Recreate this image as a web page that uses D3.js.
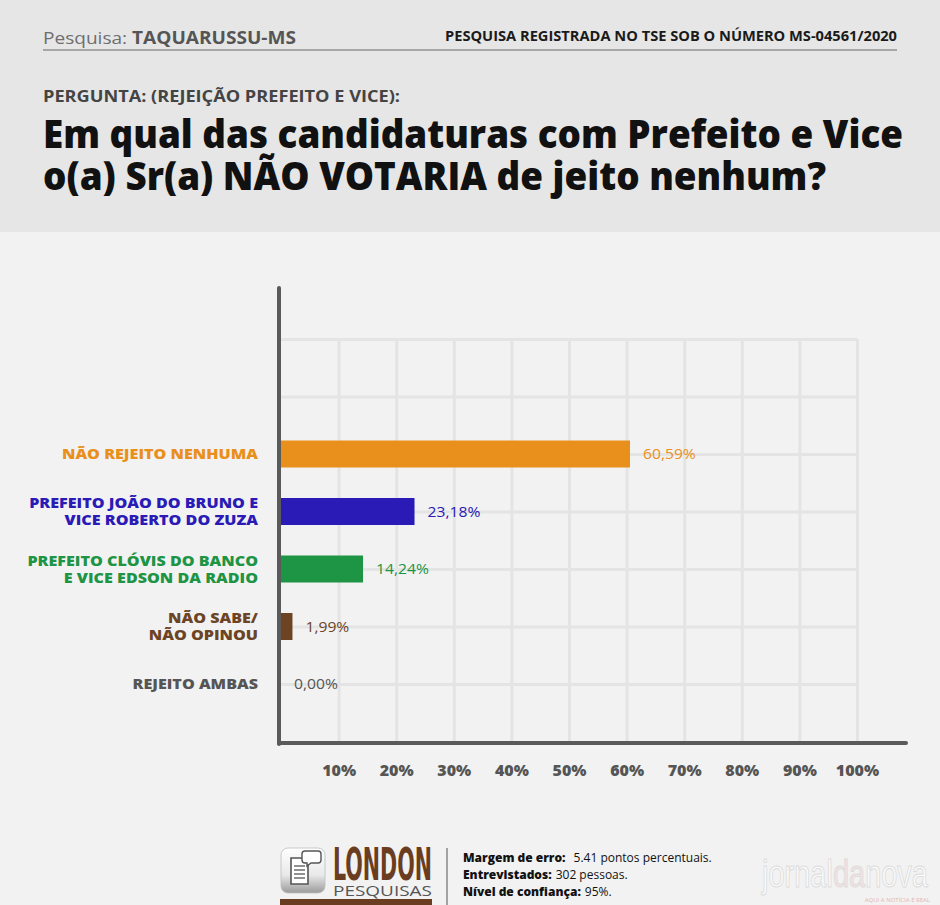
<!DOCTYPE html>
<html>
<head>
<meta charset="utf-8">
<script src="https://cdn.jsdelivr.net/npm/d3@7"></script>
<style>
  body { margin: 0; background: #f2f2f2; }
  svg { display: block; font-family: "Open Sans", sans-serif; }
</style>
</head>
<body>
<svg id="chart" width="940" height="905"></svg>
<script>
// data
const categories = ['nenhuma', 'joao', 'clovis', 'naosabe', 'ambas']
const labelLines = [
    ['NÃO REJEITO NENHUMA'],
    ['PREFEITO JOÃO DO BRUNO E', 'VICE ROBERTO DO ZUZA'],
    ['PREFEITO CLÓVIS DO BANCO', 'E VICE EDSON DA RADIO'],
    ['NÃO SABE/', 'NÃO OPINOU'],
    ['REJEITO AMBAS']
]
const values = [60.59, 23.18, 14.24, 1.99, 0.00]
const colors = ['#e98f1b', '#2a1ab6', '#1e9445', '#6c4424', '#555555']
const emptyRows = ['vazio1', 'vazio2']
const ticks = [10, 20, 30, 40, 50, 60, 70, 80, 90, 100]
const tickLabel = d => d + '%'
const footerLines = [
    ['Margem de erro:', '5.41 pontos percentuais.'],
    ['Entrevistados:', '302 pessoas.'],
    ['Nível de confiança:', '95%.']
]

const rows = categories.map((c, i) => ({ id: c, lines: labelLines[i], value: values[i], color: colors[i] }))

const svg = d3.select('#chart')

// squeeze / stretch a text to a width
const fit = (sel, w) => sel.attr('textLength', w).attr('lengthAdjust', 'spacingAndGlyphs')
const stretch = (sel, k) => sel.each(function () {
    const w = this.getComputedTextLength()
    d3.select(this).attr('textLength', w * k).attr('lengthAdjust', 'spacingAndGlyphs')
})

// header
svg.append('rect').attr('width', 940).attr('height', 232).attr('fill', '#e6e6e6')
svg.append('rect').attr('y', 232).attr('width', 940).attr('height', 673).attr('fill', '#f2f2f2')

const pesq = svg.append('text').attr('x', 43).attr('y', 44).attr('font-size', 17)
pesq.append('tspan').attr('fill', '#6e6e6e').text('Pesquisa: ')
pesq.append('tspan').attr('fill', '#555').attr('font-weight', 700).text('TAQUARUSSU-MS')
fit(pesq, 253)

svg.append('text')
    .attr('x', 897).attr('y', 41)
    .attr('text-anchor', 'end')
    .attr('font-size', 14).attr('font-weight', 700).attr('fill', '#1a1a1a')
    .text('PESQUISA REGISTRADA NO TSE SOB O NÚMERO MS-04561/2020')
    .call(fit, 452)

svg.append('line')
    .attr('x1', 43).attr('x2', 897).attr('y1', 50).attr('y2', 50)
    .attr('stroke', '#666').attr('stroke-width', 1.2)

svg.append('text')
    .attr('x', 43).attr('y', 102)
    .attr('font-size', 16).attr('font-weight', 700).attr('fill', '#444')
    .text('PERGUNTA: (REJEIÇÃO PREFEITO E VICE):')
    .call(fit, 357)

const title = ['Em qual das candidaturas com Prefeito e Vice', 'o(a) Sr(a) NÃO VOTARIA de jeito nenhum?']
const titleT = svg.selectAll('.title')
    .data(title)
    .enter()
    .append('text')
    .classed('title', true)
    .attr('x', 43)
    .attr('y', (d, i) => 148 + i * 42)
    .attr('font-size', 38).attr('font-weight', 800).attr('fill', '#111')
    .text(d => d)
const kTitle = 860 / titleT.node().getComputedTextLength()
titleT.call(stretch, kTitle)

// scales
const xScale = d3.scaleLinear().domain([0, 100]).range([281, 857])
const yScale = d3.scalePoint().domain([...emptyRows, ...categories]).range([339, 684])
const baseY = 743

// grid
const xGrid = svg.append('g')
    .attr('transform', `translate(0,${baseY})`)
    .call(d3.axisBottom(xScale).tickValues(ticks).tickSize(-(baseY - yScale(emptyRows[0]))).tickFormat(''))
const yGrid = svg.append('g')
    .attr('transform', `translate(${xScale(0)},0)`)
    .call(d3.axisLeft(yScale).tickSize(-(xScale(100) - xScale(0))).tickFormat(''))
xGrid.select('.domain').remove()
yGrid.select('.domain').remove()
svg.selectAll('.tick line').attr('stroke', '#e4e4e4').attr('stroke-width', 3)

// bars
const barH = 27
svg.selectAll('.bar')
    .data(rows)
    .enter()
    .append('rect')
    .classed('bar', true)
    .attr('x', xScale(0))
    .attr('y', d => yScale(d.id) - barH / 2)
    .attr('width', d => xScale(d.value) - xScale(0))
    .attr('height', barH)
    .attr('fill', d => d.color)

// axis frame
svg.append('line')
    .attr('x1', 279).attr('x2', 279).attr('y1', 288).attr('y2', baseY + 1)
    .attr('stroke', '#5a5a5a').attr('stroke-width', 4).attr('stroke-linecap', 'round')
svg.append('line')
    .attr('x1', 279).attr('x2', 906).attr('y1', baseY).attr('y2', baseY)
    .attr('stroke', '#5a5a5a').attr('stroke-width', 4).attr('stroke-linecap', 'round')

// tick labels
const xAxisG = svg.append('g')
    .attr('transform', `translate(0,${baseY})`)
    .call(d3.axisBottom(xScale).tickValues(ticks).tickFormat(tickLabel).tickSize(0).tickPadding(22))
xAxisG.select('.domain').remove()
xAxisG.selectAll('text')
    .attr('font-family', '"Open Sans", sans-serif')
    .attr('font-size', 16).attr('font-weight', 800).attr('fill', '#555')

// value labels
const fmt = d => d3.format('.2f')(d).replace('.', ',') + '%'
svg.selectAll('.value')
    .data(rows)
    .enter()
    .append('text')
    .classed('value', true)
    .attr('x', d => xScale(d.value) + 13)
    .attr('y', d => yScale(d.id))
    .attr('dy', '0.36em')
    .attr('font-size', 14.5)
    .attr('fill', d => d.color)
    .text(d => fmt(d.value))
    .call(stretch, 1.08)

// category labels
const catG = svg.selectAll('.cat')
    .data(rows)
    .enter()
    .append('text')
    .classed('cat', true)
    .attr('text-anchor', 'end')
    .attr('font-size', 14).attr('font-weight', 800)
    .attr('fill', d => d.color)
catG.selectAll('tspan')
    .data(d => d.lines.map((l, i) => ({ l, i, n: d.lines.length, id: d.id })))
    .enter()
    .append('tspan')
    .attr('x', 258)
    .attr('y', d => yScale(d.id) + (d.i - (d.n - 1) / 2) * 17)
    .attr('dy', '0.36em')
    .text(d => d.l)
const firstCat = catG.select('tspan').node()
const kCat = 196 / firstCat.getComputedTextLength()
catG.selectAll('tspan').call(stretch, kCat)

// footer: logo
const logo = svg.append('g')
const defs = svg.append('defs')
const grad = defs.append('linearGradient').attr('id', 'ic').attr('x1', 0).attr('y1', 0).attr('x2', 0).attr('y2', 1)
grad.append('stop').attr('offset', 0).attr('stop-color', '#ffffff')
grad.append('stop').attr('offset', 0.6).attr('stop-color', '#e9e9e9')
grad.append('stop').attr('offset', 1).attr('stop-color', '#9a9a9a')
logo.append('rect').attr('x', 281).attr('y', 848).attr('width', 44).attr('height', 45).attr('rx', 7)
    .attr('fill', 'url(#ic)').attr('stroke', '#bdbdbd').attr('stroke-width', 0.8)
logo.append('path').attr('d', 'M291 858 h12 l5 5 v21 h-17 z')
    .attr('fill', '#fff').attr('stroke', '#555').attr('stroke-width', 1.6)
;[866, 870, 874, 878].forEach(yy => logo.append('line')
    .attr('x1', 294).attr('x2', 305).attr('y1', yy).attr('y2', yy)
    .attr('stroke', '#555').attr('stroke-width', 1.3))
logo.append('path').attr('d', 'M305 851 h13 a3 3 0 0 1 3 3 v6 a3 3 0 0 1 -3 3 h-7 l-4 3 v-3 h-2 a3 3 0 0 1 -3 -3 v-6 a3 3 0 0 1 3 -3 z')
    .attr('fill', '#fff').attr('stroke', '#555').attr('stroke-width', 1.4)

svg.append('text')
    .attr('x', 333).attr('y', 880)
    .attr('font-family', '"Liberation Sans Narrow", "DejaVu Sans Condensed", sans-serif')
    .attr('font-size', 44).attr('font-weight', 700).attr('fill', '#6b3d20')
    .text('LONDON')
    .call(fit, 99)
svg.append('text')
    .attr('x', 333).attr('y', 896)
    .attr('font-size', 14).attr('fill', '#555')
    .text('PESQUISAS')
    .call(fit, 99)
svg.append('rect').attr('x', 280).attr('y', 899).attr('width', 152).attr('height', 6).attr('fill', '#6b3d20')
svg.append('line').attr('x1', 447).attr('x2', 447).attr('y1', 848).attr('y2', 905)
    .attr('stroke', '#555').attr('stroke-width', 1)

// footer notes: bold key, then regular text placed after it
footerLines.forEach((d, i) => {
    const yy = 862 + i * 17
    const key = svg.append('text')
        .attr('x', 463).attr('y', yy)
        .attr('font-size', 12).attr('font-weight', 800).attr('fill', '#111')
        .text(d[0])
    const w = key.node().getComputedTextLength()
    svg.append('text')
        .attr('x', 463 + w + (i === 0 ? 8 : 4)).attr('y', yy)
        .attr('font-size', 12).attr('fill', '#111')
        .text(d[1])
})

// watermark, pieces laid side by side then scaled to width
const wmG = svg.append('g')
const wmParts = [['jornal', '#fafafa'], ['da', '#f2e2e2'], ['nova', '#fafafa']]
let wx = 0
wmParts.forEach(([t, c]) => {
    const el = wmG.append('text')
        .attr('x', wx).attr('y', 0)
        .attr('font-family', '"Liberation Sans Narrow", "Liberation Sans", sans-serif')
        .attr('font-size', 38)
        .attr('fill', c).attr('stroke', '#dcdcdc').attr('stroke-width', 1)
        .text(t)
    wx += el.node().getComputedTextLength()
})
wmG.attr('transform', `translate(762,887) scale(${166 / wx},1)`)
svg.append('text')
    .attr('x', 930).attr('y', 902)
    .attr('text-anchor', 'end')
    .attr('font-size', 6).attr('fill', '#e4b4b4')
    .text('AQUI A NOTÍCIA É REAL')
</script>
</body>
</html>
